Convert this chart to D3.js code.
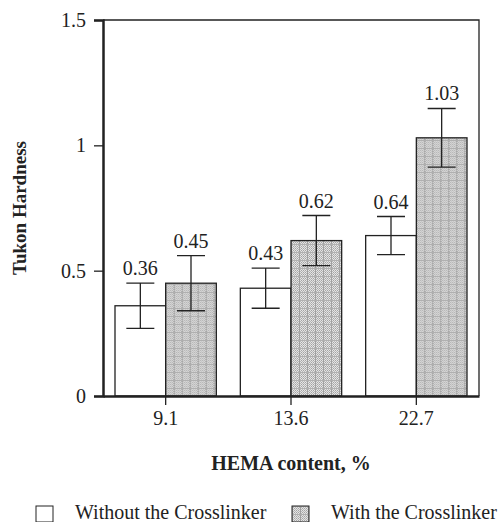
<!DOCTYPE html>
<html>
<head>
<meta charset="utf-8">
<script src="https://cdn.jsdelivr.net/npm/d3@7"></script>
<style>
  body { margin: 0; background: #fff; }
  text { font-family: "Liberation Serif", "Times New Roman", serif; fill: #222; }
</style>
</head>
<body>
<svg id="chart"></svg>
<script>
const categories = ['9.1', '13.6', '22.7'];
const seriesNames = ['Without the Crosslinker', 'With the Crosslinker'];
const withoutValues = [0.36, 0.43, 0.64];
const withoutErrors = [0.09, 0.08, 0.076];
const withValues = [0.45, 0.62, 1.03];
const withErrors = [0.11, 0.10, 0.117];
const yTicks = [0, 0.5, 1, 1.5];

const width = 502, height = 522;
const margin = {top: 20, right: 23, bottom: 126, left: 103};
const innerW = width - margin.left - margin.right;
const innerH = height - margin.top - margin.bottom;

const svg = d3.select('#chart')
    .attr('width', width)
    .attr('height', height);

// hatched grey fill
const defs = svg.append('defs');
const pat = defs.append('pattern')
    .attr('id', 'hatch')
    .attr('patternUnits', 'userSpaceOnUse')
    .attr('width', 8).attr('height', 8);
pat.append('rect').attr('width', 8).attr('height', 8).attr('fill', '#e4e4e4');
for (let i = 0; i < 8; i += 2) {
    for (let j = 0; j < 8; j += 2) {
        pat.append('rect').attr('x', i).attr('y', j).attr('width', 1).attr('height', 1).attr('fill', '#a4a4a4');
        pat.append('rect').attr('x', i + 1).attr('y', j + 1).attr('width', 1).attr('height', 1).attr('fill', '#b8b8b8');
    }
}
pat.append('rect').attr('x', 0).attr('y', 0).attr('width', 1).attr('height', 8).attr('fill', '#a0a0a0');
pat.append('rect').attr('x', 0).attr('y', 0).attr('width', 8).attr('height', 1).attr('fill', '#b0b0b0');

const chart = svg.append('g')
    .attr('transform', `translate(${margin.left}, ${margin.top})`);

const xscale = d3.scaleBand()
    .domain(categories)
    .range([0, innerW])
    .padding(0);

const sub = d3.scaleBand()
    .domain(seriesNames)
    .range([12, xscale.bandwidth() - 12]);

const yscale = d3.scaleLinear()
    .domain([0, 1.5])
    .range([innerH, 0]);

// frame (top + right)
chart.append('path')
    .attr('d', `M0,0H${innerW}V${innerH}`)
    .attr('fill', 'none')
    .attr('stroke', '#222')
    .attr('stroke-width', 1.3);

const data = categories.map((c, i) => [
    {cat: c, s: seriesNames[0], v: withoutValues[i], e: withoutErrors[i]},
    {cat: c, s: seriesNames[1], v: withValues[i], e: withErrors[i]}
]).flat();

const bars = chart.selectAll('.bar')
    .data(data)
    .join('g')
    .attr('transform', d => `translate(${xscale(d.cat) + sub(d.s)}, 0)`);

bars.append('rect')
    .attr('y', d => yscale(d.v))
    .attr('width', sub.bandwidth())
    .attr('height', d => innerH - yscale(d.v))
    .attr('fill', d => d.s === seriesNames[0] ? '#fff' : 'url(#hatch)')
    .attr('stroke', '#222')
    .attr('stroke-width', 1.3);

const cx = sub.bandwidth() / 2;
const cap = 14;
bars.append('path')
    .attr('d', d => {
        const t = yscale(d.v + d.e), b = yscale(d.v - d.e);
        return `M${cx - cap},${t}H${cx + cap}M${cx},${t}V${b}M${cx - cap},${b}H${cx + cap}`;
    })
    .attr('fill', 'none')
    .attr('stroke', '#222')
    .attr('stroke-width', 1.3);

bars.append('text')
    .attr('x', cx)
    .attr('y', d => yscale(d.v + d.e) - 8)
    .attr('text-anchor', 'middle')
    .attr('font-size', 20)
    .text(d => d.v.toFixed(2));

// axes
const yaxis = d3.axisLeft(yscale)
    .tickValues(yTicks)
    .tickSize(9)
    .tickFormat(d => d);
chart.append('g')
    .call(yaxis)
    .call(g => g.selectAll('.domain').attr('stroke', '#222').attr('stroke-width', 2.5))
    .call(g => g.selectAll('.tick line').attr('stroke', '#222').attr('stroke-width', 1.3))
    .call(g => g.selectAll('.tick text').attr('font-size', 20).attr('font-family', 'Liberation Serif').attr('fill', '#222').attr('x', -17));

const xaxis = d3.axisBottom(xscale)
    .tickSize(9)
    .tickSizeOuter(0);
chart.append('g')
    .attr('transform', `translate(0, ${innerH})`)
    .call(xaxis)
    .call(g => g.selectAll('.domain').attr('stroke', '#222').attr('stroke-width', 2.5))
    .call(g => g.selectAll('.tick line').attr('stroke', '#222').attr('stroke-width', 1.3))
    .call(g => g.selectAll('.tick text').attr('font-size', 20).attr('font-family', 'Liberation Serif').attr('fill', '#222').attr('dy', '0.85em'));

// titles
svg.append('text')
    .attr('transform', `translate(26, ${margin.top + innerH / 2}) rotate(-90)`)
    .attr('text-anchor', 'middle')
    .attr('font-size', 19)
    .attr('font-weight', 'bold')
    .text('Tukon Hardness');

svg.append('text')
    .attr('x', margin.left + innerW / 2)
    .attr('y', 470)
    .attr('text-anchor', 'middle')
    .attr('font-size', 20)
    .attr('font-weight', 'bold')
    .text('HEMA content, %');

// legend
const legendX = [36, 292];
const legend = svg.selectAll('.legend')
    .data(seriesNames)
    .join('g')
    .attr('transform', (d, i) => `translate(${legendX[i]}, 506)`);
legend.append('rect')
    .attr('width', 17).attr('height', 16)
    .attr('fill', (d, i) => i === 0 ? '#fff' : 'url(#hatch)')
    .attr('stroke', '#222')
    .attr('stroke-width', 1);
legend.append('text')
    .attr('x', 39)
    .attr('y', 13)
    .attr('font-size', 20)
    .text(d => d);
</script>
</body>
</html>
